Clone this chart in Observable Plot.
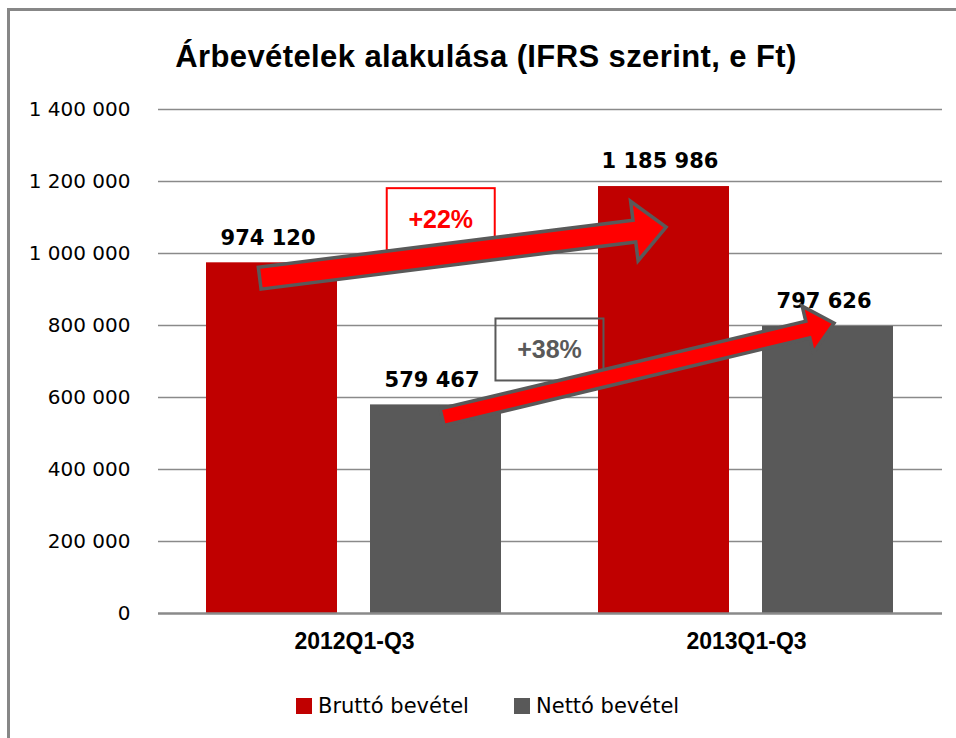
<!DOCTYPE html>
<html><head><meta charset="utf-8">
<script src="https://cdn.jsdelivr.net/npm/d3@7"></script>
<script src="https://cdn.jsdelivr.net/npm/@observablehq/plot@0.6"></script>
<style>
body{margin:0;background:#fff;}
#wrap{position:relative;width:956px;height:738px;overflow:hidden;background:#fff;}
#frame{position:absolute;left:7px;top:8px;width:1000px;height:800px;border-left:3px solid #878787;border-top:3px solid #878787;}
#title{position:absolute;left:0;width:972px;top:39px;line-height:31px;text-align:center;font:bold 31px "Liberation Sans",Arial,sans-serif;letter-spacing:0.4px;color:#000;white-space:nowrap;}
#chart{position:absolute;left:0;top:80px;}
.leg{position:absolute;top:694px;line-height:21px;font:21px "DejaVu Sans",sans-serif;color:#000;white-space:nowrap;}
.sw{position:absolute;top:698px;width:16px;height:16px;}
</style></head>
<body>
<div id="wrap">
  <div id="frame"></div>
  <div id="title">Árbevételek alakulása (IFRS szerint, e Ft)</div>
  <div id="chart"></div>
  <div id="legend"></div>
</div>
<script>
const periods = ["2012Q1-Q3", "2013Q1-Q3"];
const series = ["Bruttó bevétel", "Nettó bevétel"];
const brutto = [974120, 1185986];
const netto = [579467, 797626];
const yTicks = [0, 200000, 400000, 600000, 800000, 1000000, 1200000, 1400000];
const colors = ["#C00000", "#595959"];
const growth = ["+22%", "+38%"];

const rows = periods.flatMap((p, i) => [
  {period: p, series: series[0], value: brutto[i]},
  {period: p, series: series[1], value: netto[i]}
]);
const fmt = v => d3.format(",")(v).replace(/,/g, " ");

const chart = Plot.plot({
  width: 956, height: 600,
  marginLeft: 158, marginRight: 14, marginTop: 29, marginBottom: 67,
  style: {fontFamily: "DejaVu Sans, sans-serif", fontSize: "20px", color: "#000", background: "transparent", overflow: "visible"},
  facet: {data: rows, x: "period"},
  fx: {domain: periods, padding: 0, axis: null},
  x: {domain: series, paddingInner: 0.2, paddingOuter: 0.288, axis: null},
  y: {domain: [0, 1400000], ticks: yTicks, tickFormat: fmt, tickSize: 0, tickPadding: 28, label: null},
  color: {domain: series, range: colors},
  marks: [
    Plot.ruleY(yTicks.slice(1), {stroke: "#8a8a8a", strokeWidth: 1.3}),
    Plot.barY(rows, {x: "series", y: "value", fill: "series"}),
    Plot.ruleY([0], {stroke: "#8a8a8a", strokeWidth: 2.5}),
    Plot.text(rows, {x: "series", y: "value", text: d => fmt(d.value), dy: -25, dx: -4, fontWeight: "bold", fontSize: 21, fill: "#000"}),
    Plot.text(rows, {filter: d => d.series === series[0], text: "period", frameAnchor: "bottom", dy: 35, fontFamily: "Liberation Sans, Arial, sans-serif", fontWeight: "bold", fontSize: 23, fill: "#000"})
  ]
});
document.getElementById("chart").appendChild(chart);

// annotation overlay: growth arrows and boxes, positioned through the plot's scales
function bandFn(desc) {
  if (desc && typeof desc.apply === "function") return v => desc.apply(v);
  const s = d3.scaleBand().domain(desc.domain).range(desc.range)
    .paddingInner(desc.paddingInner ?? 0).paddingOuter(desc.paddingOuter ?? 0).align(desc.align ?? 0.5);
  return v => s(v);
}
function linFn(desc) {
  if (desc && typeof desc.apply === "function") return v => desc.apply(v);
  const s = d3.scaleLinear().domain(desc.domain).range(desc.range);
  return v => s(v);
}
const sfx = chart.scale("fx"), sx = chart.scale("x"), sy = chart.scale("y");
const fxA = bandFn(sfx), xA = bandFn(sx), yA = linFn(sy);
const bw = sx.bandwidth;
const x0 = Math.min(...sx.range);
const pos = a => [fxA(a.period) + xA(a.series) - x0 + a.at * bw, yA(a.value)];

const arrows = [
  {from: {period: periods[0], series: series[0], at: 0.41, value: 930000},
   to: {period: periods[1], series: series[0], at: 0.52, value: 1072000},
   box: {period: periods[0], series: series[1], at: 0.54, value: 1094000},
   label: growth[0], color: "#FF0000", w: 11, hw: 30, hl: 32},
  {from: {period: periods[0], series: series[1], at: 0.55, value: 544000},
   to: {period: periods[1], series: series[1], at: 0.55, value: 805000},
   box: {period: periods[0], series: series[1], at: 1.37, value: 732000},
   label: growth[1], color: "#595959", w: 8.5, hw: 24, hl: 27}
];
const svg = d3.select(chart);
const g = svg.append("g");
for (const a of arrows) {
  const [bx, by] = pos(a.box);
  g.append("rect").attr("x", bx - 54).attr("y", by - 31).attr("width", 108).attr("height", 62)
    .attr("fill", "none").attr("stroke", a.color).attr("stroke-width", 2);
  g.append("text").attr("x", bx).attr("y", by).attr("text-anchor", "middle").attr("dy", "0.35em")
    .attr("font-family", "Liberation Sans, Arial, sans-serif").attr("font-weight", "bold").attr("font-size", 25)
    .attr("fill", a.color).text(a.label);
}
for (const a of arrows) {
  const [tx, ty] = pos(a.from), [px, py] = pos(a.to);
  const L = Math.hypot(px - tx, py - ty), ux = (px - tx) / L, uy = (py - ty) / L;
  const nx = -uy, ny = ux;
  const bxp = px - ux * a.hl, byp = py - uy * a.hl;
  const pts = [
    [tx + nx * a.w, ty + ny * a.w],
    [bxp + nx * a.w, byp + ny * a.w],
    [bxp + nx * a.hw, byp + ny * a.hw],
    [px, py],
    [bxp - nx * a.hw, byp - ny * a.hw],
    [bxp - nx * a.w, byp - ny * a.w],
    [tx - nx * a.w, ty - ny * a.w]
  ];
  g.append("polygon").attr("points", pts.map(p => p.join(",")).join(" "))
    .attr("fill", "#FF0000").attr("stroke", "#595959").attr("stroke-width", 3.5).attr("stroke-linejoin", "miter");
}

// legend
const legend = document.getElementById("legend");
const legX = [296, 514];
series.forEach((s, i) => {
  const sw = document.createElement("div");
  sw.className = "sw"; sw.style.left = legX[i] + "px"; sw.style.background = colors[i];
  const t = document.createElement("div");
  t.className = "leg"; t.style.left = (legX[i] + 22) + "px"; t.textContent = s;
  legend.appendChild(sw); legend.appendChild(t);
});
</script>
</body></html>
